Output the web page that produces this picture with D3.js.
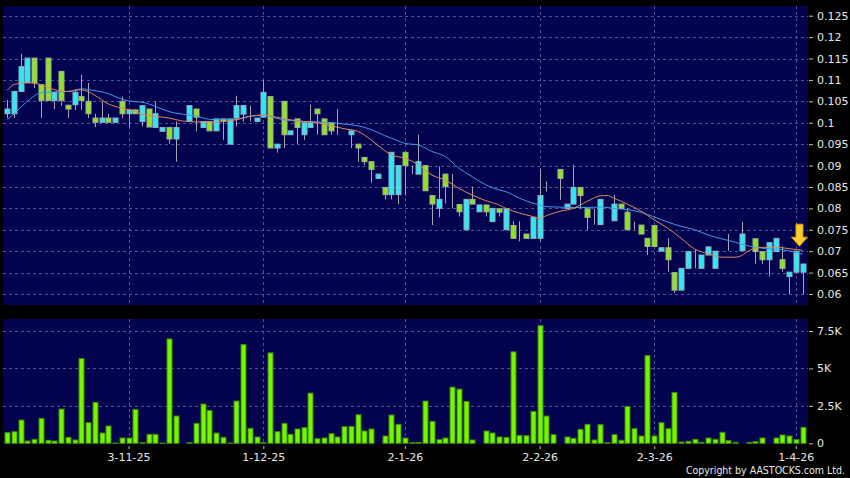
<!DOCTYPE html>
<html>
<head>
<meta charset="utf-8">
<script src="https://cdn.jsdelivr.net/npm/d3@7"></script>
<style>
  body { margin: 0; background: #000; }
  svg { display: block; }
</style>
</head>
<body>
<div class="chart"></div>
<script>
// daily candles, oldest first (null = no trade)
const opens = [
  .1021,.1021,.1073,.1093,.1151,.1089,.1151,.1052,.1120,.1041,.1042,.1061,.1050,.1011,.1001,.1011,.1001,.1050,.1021,.1030,
  .1003,.1032,.0989,.0980,.0989,.0962,null,.1003,.1032,.0989,.1003,.0981,.1009,.0950,.1011,.1020,.1040,.1003,.1013,.1061,
  .0941,.1050,.0972,.1009,.0972,.0989,.1032,.1009,.1000,.0972,.0972,.0972,.0950,.0919,.0909,.0870,.0849,.0832,.0832,.0931,
  .0880,.0880,.0900,.0830,.0800,.0880,.0800,.0809,.0750,.0821,.0792,.0808,.0769,.0799,.0750,.0760,.0730,.0740,.0730,.0730,
  .0849,.0849,.0891,.0800,.0810,.0849,.0799,.0790,.0762,.0762,.0771,.0810,.0791,.0750,.0761,.0730,.0760,.0700,.0708,.0650,
  .0609,.0660,.0680,.0660,.0691,.0660,.0701,.0701,.0701,.0701,.0740,.0729,.0699,.0680,.0699,.0680,.0641,.0651,.0651
];
const highs = [
  .1053,.1075,.1161,.1151,.1151,.1089,.1151,.1071,.1120,.1041,.1077,.1112,.1093,.1021,.1050,.1021,.1011,.1061,.1030,.1030,
  .1040,.1032,.1050,.0989,.0989,.1003,null,.1040,.1032,.1003,.1003,.1009,.1009,.1009,.1063,.1040,.1040,.1011,.1100,.1061,
  .0950,.1050,.0981,.1009,.1000,.1042,.1032,.1009,.1000,.1032,.0972,.0981,.0950,.0919,.0909,.0880,.0849,.0931,.0900,.0931,
  .0900,.0972,.0900,.0830,.0898,.0880,.0880,.0809,.0821,.0851,.0808,.0808,.0800,.0799,.0799,.0770,.0770,.0740,.0779,.0891,
  .0863,.0849,.0891,.0810,.0902,.0849,.0799,.0799,.0821,.0762,.0831,.0810,.0800,.0769,.0761,.0730,.0760,.0708,.0730,.0650,
  .0660,.0699,.0703,.0691,.0710,.0700,.0701,.0740,.0701,.0769,.0740,.0729,.0699,.0720,.0730,.0711,.0651,.0700,.0670
];
const lows = [
  .1011,.1011,.1073,.1093,.1081,.1011,.1052,.1032,.1040,.1011,.1030,.1030,.1011,.0990,.1001,.1001,.1001,.1011,.0990,.1021,
  .0991,.0990,.0989,.0980,.0951,.0909,null,.1003,.0980,.0989,.0981,.0981,.0960,.0950,.0991,.1003,.1003,.1003,.1013,.0941,
  .0930,.0941,.0972,.0951,.0960,.0989,.0972,.0972,.0972,.0972,.0972,.0941,.0909,.0901,.0860,.0870,.0821,.0821,.0810,.0830,
  .0880,.0880,.0841,.0761,.0779,.0812,.0800,.0781,.0750,.0810,.0792,.0781,.0769,.0781,.0750,.0730,.0723,.0730,.0730,.0723,
  .0839,.0849,.0820,.0800,.0810,.0800,.0750,.0762,.0762,.0762,.0771,.0800,.0750,.0750,.0740,.0691,.0711,.0700,.0652,.0602,
  .0609,.0660,.0660,.0660,.0691,.0660,.0701,.0701,.0701,.0701,.0740,.0670,.0670,.0641,.0699,.0652,.0600,.0651,.0600
];
const closes = [
  .1032,.1073,.1131,.1151,.1093,.1052,.1052,.1071,.1052,.1032,.1071,.1052,.1021,.1001,.1011,.1001,.1011,.1021,.1030,.1021,
  .1040,.0990,.1021,.0989,.0962,.0989,null,.1040,.1013,.1003,.0981,.1009,.1003,.1009,.1040,.1040,.1040,.1011,.1071,.0941,
  .0950,.0972,.0981,.0989,.1000,.1000,.1021,.0972,.0981,.0972,.0972,.0981,.0941,.0909,.0891,.0880,.0832,.0931,.0900,.0900,
  .0880,.0909,.0841,.0810,.0821,.0851,.0800,.0792,.0821,.0810,.0808,.0792,.0800,.0791,.0799,.0730,.0730,.0730,.0779,.0830,
  .0849,.0849,.0870,.0810,.0849,.0830,.0779,.0790,.0821,.0762,.0810,.0800,.0750,.0750,.0740,.0711,.0711,.0708,.0680,.0609,
  .0660,.0699,.0680,.0691,.0710,.0700,.0701,.0701,.0701,.0740,.0740,.0699,.0680,.0720,.0730,.0660,.0651,.0700,.0670
];
const volumes = [
  711,777,1555,155,266,1665,200,155,2287,400,222,5661,1376,2731,688,1154,20,355,355,2264,
  40,600,600,20,6971,1820,0,40,1333,2620,2198,688,400,20,2820,6593,1000,422,40,6038,
  777,1333,600,955,1044,3352,311,355,644,422,1110,1132,1909,821,955,0,488,1887,1265,355,
  40,60,2820,1465,244,355,3752,3619,2797,222,0,821,688,422,400,6105,533,511,2131,7859,
  1820,577,0,422,333,933,1265,222,1243,40,577,200,2464,977,488,5861,488,1376,977,3397,
  89,133,266,67,355,266,733,178,67,0,67,111,355,0,355,555,488,244,1066
];

// moving averages at these candle indices
const maIdx = [0,1,3,5,7,9,11,13,15,17,19,20,22,24,26,28,30,32,34,36,38,40,42,44,46,48,50,52,54,56,57,59,61,63,65,67,69,71,73,74,76,78,79,80,82,84,86,88,89,90,92,94,96,98,100,102,104,106,108,109,110,112,114,116,118];
const maShort = [.1076,.1089,.1094,.1089,.1077,.1073,.1077,.1064,.1044,.1034,.1026,.1020,.1015,.1011,.1004,.1002,.1001,.1003,.1007,.1015,.1018,.1013,.1007,.1003,.1000,.0993,.0986,.0980,.0960,.0935,.0925,.0917,.0902,.0878,.0866,.0847,.0831,.0818,.0808,.0800,.0789,.0781,.0777,.0783,.0793,.0800,.0816,.0829,.0830,.0824,.0810,.0794,.0773,.0754,.0730,.0705,.0694,.0686,.0686,.0690,.0701,.0709,.0709,.0706,.0702];
const maLong = [.1007,.1021,.1050,.1070,.1072,.1073,.1079,.1075,.1068,.1055,.1049,.1048,.1038,.1026,.1020,.1016,.1008,.1007,.1008,.1015,.1018,.1010,.1005,.1003,.1002,.1000,.0997,.0993,.0984,.0970,.0964,.0952,.0948,.0933,.0921,.0894,.0874,.0855,.0843,.0839,.0824,.0812,.0808,.0804,.0803,.0802,.0802,.0803,.0802,.0800,.0797,.0791,.0780,.0768,.0758,.0750,.0738,.0729,.0721,.0716,.0712,.0707,.0705,.0701,.0693];

const dateIdx = [18, 38, 59, 79, 96, 117];
const dateLabels = ['3-11-25', '1-12-25', '2-1-26', '2-2-26', '2-3-26', '1-4-26'];
const priceTicks = [0.06,0.065,0.07,0.075,0.08,0.085,0.09,0.095,0.1,0.105,0.11,0.115,0.12,0.125];
const volTicks = [0, 2500, 5000, 7500];
const volLabels = ['0', '2.5K', '5K', '7.5K'];

const w = 850, h = 478;
const left = 3, right = 808;
const pTop = 6, pBottom = 305;
const vTop = 319, vBottom = 444;
const font = 'DejaVu Sans, Verdana, sans-serif';

const svg = d3.select('.chart').append('svg').attr('width', w).attr('height', h).style('background', '#000');

const n = opens.length;
const x = d3.scalePoint().domain(d3.range(n)).range([7.2, 802.5]);
const yP = d3.scaleLinear().domain([0.06, 0.125]).range([294, 15.7]);
const yV = d3.scaleLinear().domain([0, 7500]).range([443.3, 331]);
const bw = 5;

// panels
svg.append('rect').attr('x', left).attr('y', pTop).attr('width', right - left).attr('height', pBottom - pTop).attr('fill', '#02024f');
svg.append('rect').attr('x', left).attr('y', vTop).attr('width', right - left).attr('height', vBottom - vTop).attr('fill', '#02024f');

const grid = svg.append('g').attr('stroke', '#50509a').attr('stroke-dasharray', '3,3').attr('stroke-width', 1);
grid.selectAll('.hp').data(priceTicks).enter().append('line')
  .attr('x1', left).attr('x2', right).attr('y1', d => Math.round(yP(d)) + 0.5).attr('y2', d => Math.round(yP(d)) + 0.5);
grid.selectAll('.hv').data(volTicks.slice(1)).enter().append('line')
  .attr('x1', left).attr('x2', right).attr('y1', d => Math.round(yV(d)) + 0.5).attr('y2', d => Math.round(yV(d)) + 0.5);
grid.selectAll('.vp').data(dateIdx).enter().append('line')
  .attr('x1', d => Math.round(x(d)) + 0.5).attr('x2', d => Math.round(x(d)) + 0.5).attr('y1', pTop).attr('y2', pBottom);
grid.selectAll('.vv').data(dateIdx).enter().append('line')
  .attr('x1', d => Math.round(x(d)) + 0.5).attr('x2', d => Math.round(x(d)) + 0.5).attr('y1', vTop).attr('y2', vBottom);

// candles
const idx = d3.range(n).filter(i => opens[i] !== null);
const cg = svg.append('g');
cg.selectAll('.wick').data(idx).enter().append('line')
  .attr('x1', i => Math.round(x(i)) + 0.5).attr('x2', i => Math.round(x(i)) + 0.5)
  .attr('y1', i => yP(highs[i])).attr('y2', i => yP(lows[i]))
  .attr('stroke', '#a4a4b4').attr('stroke-width', 1);
cg.selectAll('.body').data(idx).enter().append('rect')
  .attr('x', i => Math.round(x(i)) - 2)
  .attr('y', i => yP(Math.max(opens[i], closes[i])))
  .attr('width', bw)
  .attr('height', i => Math.abs(yP(opens[i]) - yP(closes[i])))
  .attr('fill', i => closes[i] > opens[i] ? '#30e8f4' : '#8ee22a')
  .attr('stroke', i => closes[i] > opens[i] ? '#8fb0c0' : '#a0b090')
  .attr('stroke-width', 1);

// moving averages
const line = d3.line().x(d => x(d[0])).y(d => yP(d[1])).curve(d3.curveMonotoneX);
svg.append('path').datum(maIdx.map((d, k) => [d, maLong[k]]))
  .attr('d', line).attr('fill', 'none').attr('stroke', '#3a9de6').attr('stroke-width', 1);
svg.append('path').datum(maIdx.map((d, k) => [d, maShort[k]]))
  .attr('d', line).attr('fill', 'none').attr('stroke', '#e0885a').attr('stroke-width', 1);

// marker on latest bar
const ax = x(n - 2) + x.step() * 0.55;
const ay = yP(highs[n - 2]) - 5;
svg.append('path')
  .attr('d', `M${ax - 3.5},${ay - 22}h7v13h4.5l-8,9l-8,-9h4.5z`)
  .attr('fill', '#ffd02a').attr('stroke', '#e89000').attr('stroke-width', 1);

// volume
svg.append('g').selectAll('rect').data(d3.range(n)).enter().append('rect')
  .attr('x', i => Math.round(x(i)) - 2)
  .attr('y', i => yV(volumes[i]))
  .attr('width', bw)
  .attr('height', i => yV(0) - yV(volumes[i]))
  .attr('fill', '#76f500').attr('stroke', '#3f8a00').attr('stroke-width', 1);

// axes
const styleAxis = g => {
  g.select('.domain').remove();
  g.selectAll('line').attr('stroke', '#bbbbbb');
  g.selectAll('text').attr('fill', '#e6e6e6').style('font-family', font).style('font-size', '11px');
};
svg.append('g').attr('transform', `translate(${right + 1}, 0)`)
  .call(d3.axisRight(yP).tickValues(priceTicks).tickSize(4).tickPadding(4).tickFormat(d3.format('.3~f')))
  .call(styleAxis);
svg.append('g').attr('transform', `translate(${right + 1}, 0)`)
  .call(d3.axisRight(yV).tickValues(volTicks).tickSize(4).tickPadding(4).tickFormat((d, k) => volLabels[k]))
  .call(styleAxis);
svg.append('g').attr('transform', `translate(0, ${vBottom + 2})`)
  .call(d3.axisBottom(x).tickValues(dateIdx).tickSize(3).tickPadding(4).tickFormat((d, k) => dateLabels[k]))
  .call(styleAxis);

svg.append('text').attr('x', 845).attr('y', 474).attr('text-anchor', 'end')
  .attr('fill', '#e6e6e6').style('font-family', 'DejaVu Sans Condensed, DejaVu Sans, sans-serif').style('font-size', '10.5px')
  .text('Copyright by AASTOCKS.com Ltd.');
</script>
</body>
</html>
